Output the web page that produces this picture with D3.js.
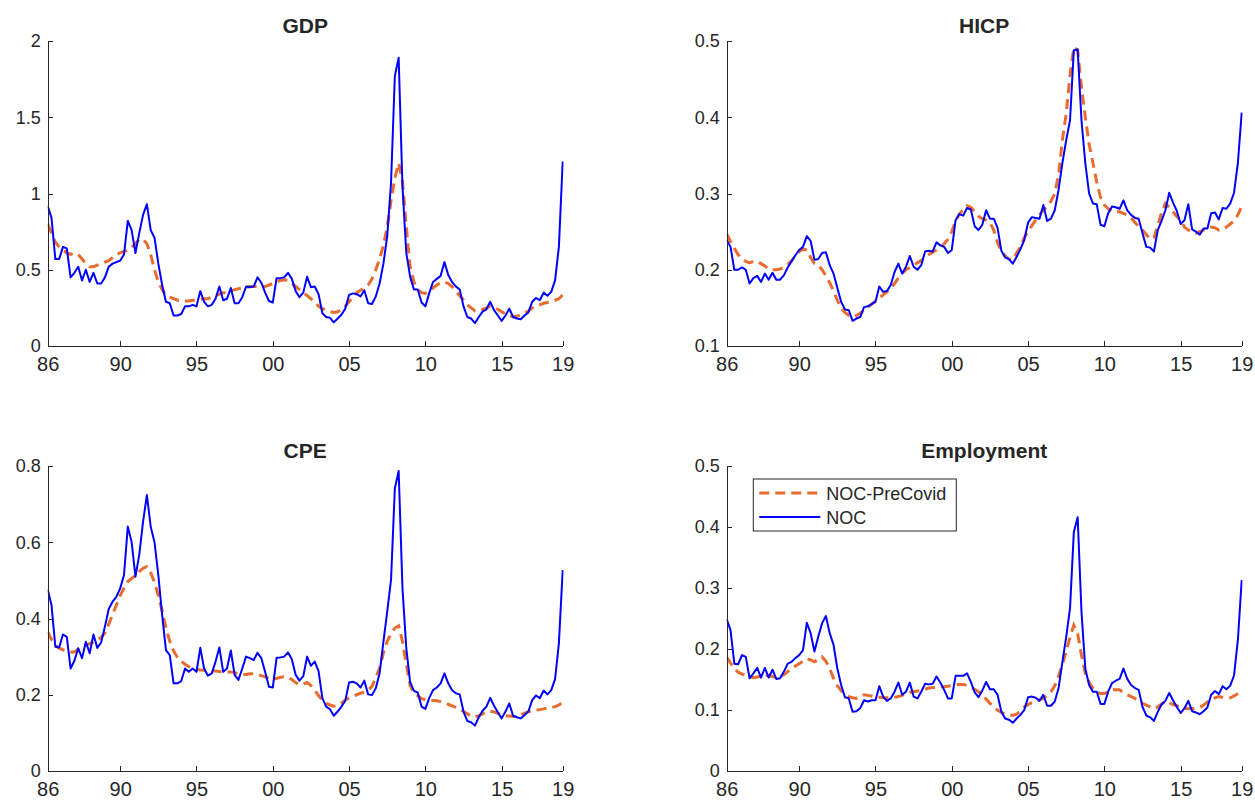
<!DOCTYPE html>
<html>
<head>
<meta charset="utf-8">
<script src="https://cdn.jsdelivr.net/npm/d3@7"></script>
<style>
  body { margin: 0; background: #ffffff; }
  svg { display: block; }
  text { font-family: "Liberation Sans", Arial, Helvetica, sans-serif; fill: #262626; }
</style>
</head>
<body>
<svg id="fig" width="1255" height="802"></svg>
<script>
// ---------------- data ----------------
// Quarterly observations, 1985Q2 .. 2019Q1
const startYear = 1985, startQuarter = 2, nObs = 136;
const periods = d3.range(nObs).map(k => {
  const q = startQuarter - 1 + k;
  return `${startYear + Math.floor(q / 4)}Q${(q % 4) + 1}`;
});
const tickPeriods = ["1985Q2", "1990Q1", "1995Q1", "2000Q1", "2005Q1", "2010Q1", "2015Q1", "2019Q1"];
const tickLabels  = ["86", "90", "95", "00", "05", "10", "15", "19"];

const seriesNames = ["NOC-PreCovid", "NOC"];
const panelTitles = ["GDP", "HICP", "CPE", "Employment"];

const gdpYTicks  = [0, 0.5, 1, 1.5, 2];
const hicpYTicks = [0.1, 0.2, 0.3, 0.4, 0.5];
const cpeYTicks  = [0, 0.2, 0.4, 0.6, 0.8];
const empYTicks  = [0, 0.1, 0.2, 0.3, 0.4, 0.5];

const gdpPreCovid = [
  0.80, 0.74, 0.68, 0.65, 0.63, 0.61, 0.60, 0.61, 0.60, 0.57,
  0.54, 0.52, 0.52, 0.53, 0.54, 0.55, 0.56, 0.58, 0.60, 0.61,
  0.62, 0.63, 0.65, 0.67, 0.70, 0.70, 0.67, 0.60, 0.50, 0.42,
  0.37, 0.33, 0.32, 0.31, 0.30, 0.30, 0.295, 0.295, 0.30, 0.30,
  0.305, 0.31, 0.31, 0.32, 0.33, 0.34, 0.35, 0.35, 0.36, 0.37,
  0.375, 0.38, 0.385, 0.39, 0.39, 0.39, 0.39, 0.39, 0.40, 0.41,
  0.42, 0.43, 0.435, 0.43, 0.41, 0.39, 0.37, 0.35, 0.33, 0.31,
  0.29, 0.26, 0.245, 0.235, 0.225, 0.22, 0.225, 0.235, 0.26, 0.29,
  0.32, 0.35, 0.365, 0.38, 0.40, 0.44, 0.50, 0.57, 0.66, 0.78,
  0.95, 1.10, 1.20, 1.08, 0.78, 0.52, 0.42, 0.37, 0.35, 0.345,
  0.36, 0.38, 0.40, 0.415, 0.42, 0.41, 0.39, 0.36, 0.33, 0.30,
  0.27, 0.25, 0.23, 0.23, 0.24, 0.25, 0.26, 0.25, 0.24, 0.225,
  0.21, 0.20, 0.19, 0.195, 0.205, 0.215, 0.23, 0.25, 0.26, 0.27,
  0.28, 0.285, 0.29, 0.30, 0.31, 0.335
];
const gdpNOC = [
  0.92, 0.84, 0.57, 0.57, 0.65, 0.64, 0.45, 0.48, 0.52, 0.43,
  0.50, 0.42, 0.48, 0.41, 0.41, 0.45, 0.52, 0.54, 0.55, 0.56,
  0.60, 0.82, 0.76, 0.61, 0.74, 0.86, 0.93, 0.76, 0.71, 0.54,
  0.40, 0.29, 0.28, 0.20, 0.20, 0.21, 0.26, 0.26, 0.27, 0.26,
  0.36, 0.29, 0.26, 0.27, 0.31, 0.39, 0.30, 0.31, 0.38, 0.28,
  0.28, 0.32, 0.39, 0.385, 0.39, 0.45, 0.415, 0.35, 0.295, 0.285,
  0.445, 0.445, 0.45, 0.48, 0.44, 0.36, 0.32, 0.35, 0.455, 0.385,
  0.39, 0.34, 0.215, 0.19, 0.185, 0.155, 0.18, 0.205, 0.245, 0.335,
  0.345, 0.34, 0.325, 0.365, 0.28, 0.275, 0.325, 0.41, 0.54, 0.72,
  1.07, 1.77, 1.89, 1.045, 0.61, 0.455, 0.37, 0.37, 0.285, 0.26,
  0.345, 0.42, 0.44, 0.46, 0.55, 0.465, 0.42, 0.39, 0.37, 0.26,
  0.19, 0.18, 0.15, 0.19, 0.225, 0.24, 0.29, 0.235, 0.20, 0.165,
  0.20, 0.245, 0.19, 0.18, 0.175, 0.20, 0.22, 0.29, 0.315, 0.30,
  0.35, 0.33, 0.355, 0.43, 0.65, 1.21
];

const hicpPreCovid = [
  0.247, 0.237, 0.228, 0.220, 0.214, 0.211, 0.209, 0.211, 0.211, 0.208,
  0.205, 0.201, 0.200, 0.200, 0.201, 0.203, 0.207, 0.212, 0.218, 0.224,
  0.227, 0.226, 0.216, 0.208, 0.206, 0.200, 0.192, 0.183, 0.172, 0.160,
  0.150, 0.144, 0.140, 0.138, 0.140, 0.143, 0.147, 0.151, 0.155, 0.159,
  0.163, 0.167, 0.171, 0.176, 0.182, 0.189, 0.195, 0.200, 0.203, 0.206,
  0.209, 0.212, 0.216, 0.220, 0.223, 0.226, 0.229, 0.234, 0.240, 0.250,
  0.264, 0.273, 0.279, 0.284, 0.282, 0.276, 0.270, 0.267, 0.265, 0.262,
  0.252, 0.235, 0.225, 0.218, 0.214, 0.213, 0.222, 0.230, 0.242, 0.250,
  0.258, 0.265, 0.272, 0.278, 0.283, 0.290, 0.300, 0.325, 0.370, 0.405,
  0.455, 0.492, 0.488, 0.440, 0.400, 0.365, 0.340, 0.315, 0.295, 0.285,
  0.280, 0.276, 0.276, 0.276, 0.274, 0.272, 0.268, 0.262, 0.257, 0.252,
  0.246, 0.240, 0.242, 0.258, 0.275, 0.287, 0.282, 0.276, 0.270, 0.265,
  0.256, 0.252, 0.249, 0.248, 0.250, 0.252, 0.254, 0.256, 0.255, 0.252,
  0.253, 0.256, 0.260, 0.264, 0.272, 0.283
];
const hicpNOC = [
  0.239, 0.230, 0.200, 0.200, 0.203, 0.200, 0.182, 0.189, 0.192, 0.184,
  0.195, 0.187, 0.196, 0.187, 0.187, 0.193, 0.203, 0.211, 0.219, 0.226,
  0.230, 0.244, 0.238, 0.213, 0.214, 0.222, 0.223, 0.206, 0.195, 0.176,
  0.158, 0.148, 0.147, 0.133, 0.136, 0.138, 0.151, 0.152, 0.155, 0.158,
  0.178, 0.171, 0.172, 0.180, 0.197, 0.208, 0.195, 0.204, 0.218, 0.204,
  0.200, 0.206, 0.224, 0.225, 0.224, 0.236, 0.232, 0.230, 0.222, 0.226,
  0.265, 0.273, 0.271, 0.281, 0.279, 0.257, 0.252, 0.259, 0.278, 0.267,
  0.267, 0.255, 0.225, 0.216, 0.214, 0.208, 0.217, 0.227, 0.239, 0.262,
  0.269, 0.268, 0.267, 0.285, 0.264, 0.267, 0.278, 0.305, 0.340, 0.370,
  0.396, 0.488, 0.489, 0.396, 0.340, 0.300, 0.287, 0.286, 0.259, 0.257,
  0.274, 0.283, 0.282, 0.280, 0.291, 0.278, 0.272, 0.268, 0.267, 0.248,
  0.230, 0.229, 0.224, 0.252, 0.264, 0.278, 0.301, 0.288, 0.277, 0.260,
  0.265, 0.286, 0.253, 0.250, 0.246, 0.254, 0.254, 0.274, 0.275, 0.266,
  0.281, 0.280, 0.287, 0.301, 0.340, 0.406
];

const cpePreCovid = [
  0.365, 0.345, 0.330, 0.322, 0.318, 0.315, 0.312, 0.312, 0.320, 0.327,
  0.330, 0.334, 0.338, 0.344, 0.350, 0.362, 0.385, 0.410, 0.435, 0.460,
  0.480, 0.497, 0.505, 0.512, 0.523, 0.532, 0.536, 0.520, 0.495, 0.460,
  0.420, 0.375, 0.340, 0.315, 0.298, 0.288, 0.280, 0.274, 0.270, 0.267,
  0.265, 0.264, 0.263, 0.262, 0.262, 0.261, 0.260, 0.260, 0.260, 0.258,
  0.255, 0.253, 0.253, 0.255, 0.255, 0.253, 0.250, 0.247, 0.242, 0.240,
  0.243, 0.246, 0.247, 0.245, 0.240, 0.232, 0.226, 0.228, 0.232, 0.224,
  0.212, 0.198, 0.186, 0.178, 0.173, 0.170, 0.172, 0.178, 0.186, 0.192,
  0.196, 0.200, 0.204, 0.207, 0.212, 0.222, 0.245, 0.270, 0.310, 0.340,
  0.360, 0.375, 0.381, 0.340, 0.280, 0.225, 0.205, 0.197, 0.190, 0.187,
  0.186, 0.185, 0.184, 0.182, 0.178, 0.175, 0.171, 0.167, 0.163, 0.156,
  0.150, 0.143, 0.142, 0.145, 0.150, 0.154, 0.157, 0.155, 0.151, 0.148,
  0.145, 0.144, 0.143, 0.143, 0.147, 0.152, 0.155, 0.158, 0.160, 0.161,
  0.163, 0.165, 0.166, 0.169, 0.173, 0.180
];
const cpeNOC = [
  0.477, 0.435, 0.326, 0.324, 0.358, 0.352, 0.269, 0.289, 0.322, 0.296,
  0.339, 0.309, 0.358, 0.323, 0.337, 0.379, 0.425, 0.444, 0.457, 0.479,
  0.514, 0.641, 0.601, 0.510, 0.567, 0.654, 0.724, 0.641, 0.600, 0.514,
  0.409, 0.317, 0.304, 0.230, 0.230, 0.236, 0.269, 0.260, 0.269, 0.260,
  0.323, 0.269, 0.250, 0.256, 0.287, 0.324, 0.260, 0.269, 0.316, 0.252,
  0.239, 0.269, 0.300, 0.296, 0.291, 0.310, 0.296, 0.260, 0.221, 0.219,
  0.297, 0.298, 0.300, 0.311, 0.293, 0.252, 0.237, 0.249, 0.300, 0.276,
  0.287, 0.262, 0.191, 0.169, 0.162, 0.145, 0.156, 0.169, 0.184, 0.232,
  0.234, 0.230, 0.219, 0.237, 0.201, 0.199, 0.217, 0.256, 0.339, 0.418,
  0.501, 0.741, 0.787, 0.479, 0.322, 0.234, 0.210, 0.206, 0.169, 0.163,
  0.191, 0.212, 0.219, 0.230, 0.256, 0.230, 0.212, 0.204, 0.201, 0.156,
  0.131, 0.128, 0.119, 0.141, 0.158, 0.169, 0.192, 0.171, 0.154, 0.138,
  0.156, 0.177, 0.145, 0.141, 0.138, 0.147, 0.156, 0.186, 0.198, 0.191,
  0.211, 0.201, 0.212, 0.241, 0.335, 0.527
];

const empPreCovid = [
  0.187, 0.177, 0.168, 0.162, 0.159, 0.157, 0.155, 0.153, 0.154, 0.156,
  0.157, 0.157, 0.155, 0.153, 0.155, 0.158, 0.163, 0.168, 0.172, 0.176,
  0.180, 0.184, 0.182, 0.179, 0.183, 0.187, 0.180, 0.168, 0.152, 0.140,
  0.132, 0.126, 0.122, 0.120, 0.119, 0.122, 0.125, 0.124, 0.123, 0.122,
  0.121, 0.120, 0.120, 0.120, 0.121, 0.122, 0.124, 0.127, 0.129, 0.130,
  0.131, 0.132, 0.134, 0.136, 0.137, 0.137, 0.138, 0.138, 0.139, 0.140,
  0.141, 0.142, 0.142, 0.140, 0.137, 0.134, 0.130, 0.125, 0.118, 0.111,
  0.106, 0.100, 0.096, 0.093, 0.092, 0.091, 0.093, 0.098, 0.105, 0.109,
  0.112, 0.115, 0.117, 0.119, 0.124, 0.130, 0.140, 0.155, 0.175, 0.196,
  0.220, 0.239, 0.225, 0.190, 0.160, 0.145, 0.136, 0.130, 0.127, 0.127,
  0.130, 0.133, 0.133, 0.133, 0.128, 0.125, 0.122, 0.119, 0.115, 0.111,
  0.108, 0.105, 0.102, 0.105, 0.110, 0.114, 0.112, 0.109, 0.107, 0.105,
  0.103, 0.102, 0.102, 0.103, 0.104, 0.108, 0.113, 0.117, 0.120, 0.122,
  0.121, 0.120, 0.120, 0.123, 0.127, 0.131
];
const empNOC = [
  0.249, 0.231, 0.176, 0.175, 0.190, 0.187, 0.152, 0.160, 0.169, 0.153,
  0.169, 0.153, 0.166, 0.151, 0.152, 0.163, 0.176, 0.179, 0.185, 0.190,
  0.198, 0.243, 0.226, 0.196, 0.220, 0.242, 0.254, 0.226, 0.207, 0.168,
  0.141, 0.121, 0.119, 0.097, 0.098, 0.103, 0.116, 0.114, 0.116, 0.116,
  0.139, 0.122, 0.115, 0.119, 0.130, 0.145, 0.125, 0.130, 0.145, 0.122,
  0.119, 0.130, 0.143, 0.142, 0.143, 0.155, 0.145, 0.133, 0.119, 0.119,
  0.156, 0.156, 0.156, 0.160, 0.146, 0.129, 0.121, 0.132, 0.146, 0.134,
  0.134, 0.125, 0.097, 0.086, 0.084, 0.079, 0.086, 0.092, 0.100, 0.121,
  0.122, 0.120, 0.115, 0.125, 0.107, 0.107, 0.114, 0.136, 0.179, 0.220,
  0.267, 0.392, 0.416, 0.261, 0.168, 0.141, 0.130, 0.130, 0.110, 0.110,
  0.130, 0.144, 0.148, 0.151, 0.168, 0.151, 0.141, 0.136, 0.133, 0.105,
  0.091, 0.088, 0.082, 0.097, 0.109, 0.115, 0.128, 0.116, 0.105, 0.095,
  0.103, 0.115, 0.098, 0.096, 0.093, 0.098, 0.104, 0.125, 0.131, 0.126,
  0.139, 0.134, 0.140, 0.157, 0.215, 0.313
];

// ---------------- layout & style ----------------
const AXIS_COLOR = "#262626";
const PRE_COLOR = "#EA6B2E";
const NOC_COLOR = "#0000FF";
const plotW = 515, plotH = 305;
const colLeft = [47.7, 726.7];
const rowTop = [41, 466];

const panels = [
  { title: panelTitles[0], yTicks: gdpYTicks,  pre: gdpPreCovid,  noc: gdpNOC,  col: 0, row: 0 },
  { title: panelTitles[1], yTicks: hicpYTicks, pre: hicpPreCovid, noc: hicpNOC, col: 1, row: 0 },
  { title: panelTitles[2], yTicks: cpeYTicks,  pre: cpePreCovid,  noc: cpeNOC,  col: 0, row: 1 },
  { title: panelTitles[3], yTicks: empYTicks,  pre: empPreCovid,  noc: empNOC,  col: 1, row: 1, legend: true }
];

const svg = d3.select("#fig");
svg.append("rect").attr("width", 1255).attr("height", 802).attr("fill", "#ffffff");

const tickIdx = tickPeriods.map(p => periods.indexOf(p));

panels.forEach((p, pi) => {
  const g = svg.append("g")
    .attr("transform", `translate(${colLeft[p.col]},${rowTop[p.row]})`);

  const x = d3.scaleLinear().domain([0, nObs - 1]).range([0, plotW]);
  const y = d3.scaleLinear().domain(d3.extent(p.yTicks)).range([plotH, 0]);

  const clipId = `clip${pi}`;
  g.append("clipPath").attr("id", clipId)
    .append("rect").attr("x", 0).attr("y", -2).attr("width", plotW + 1).attr("height", plotH + 2);

  const line = d3.line().x((d, i) => x(i)).y(d => y(d));

  const plot = g.append("g").attr("clip-path", `url(#${clipId})`);
  plot.append("path").datum(p.pre)
    .attr("d", line).attr("fill", "none")
    .attr("stroke", PRE_COLOR).attr("stroke-width", 3)
    .attr("stroke-dasharray", "10,6");
  plot.append("path").datum(p.noc)
    .attr("d", line).attr("fill", "none")
    .attr("stroke", NOC_COLOR).attr("stroke-width", 2)
    .attr("stroke-linejoin", "round");

  // y axis
  const yAxis = d3.axisLeft(y).tickValues(p.yTicks)
    .tickFormat(d3.format("~g")).tickSizeInner(-5).tickSizeOuter(0).tickPadding(7);
  const ya = g.append("g").call(yAxis);
  ya.select(".domain").attr("stroke", AXIS_COLOR);
  ya.selectAll(".tick line").attr("stroke", AXIS_COLOR);
  ya.selectAll(".tick text").attr("font-size", 18).attr("fill", AXIS_COLOR)
    .attr("font-family", "Liberation Sans, Arial, sans-serif");

  // x axis
  const xAxis = d3.axisBottom(x).tickValues(tickIdx)
    .tickFormat((d, i) => tickLabels[i]).tickSizeInner(-5).tickSizeOuter(0).tickPadding(11);
  const xa = g.append("g").attr("transform", `translate(0,${plotH})`).call(xAxis);
  xa.select(".domain").attr("stroke", AXIS_COLOR);
  xa.selectAll(".tick line").attr("stroke", AXIS_COLOR);
  xa.selectAll(".tick text").attr("font-size", 20).attr("fill", AXIS_COLOR)
    .attr("font-family", "Liberation Sans, Arial, sans-serif");
  g.selectAll(".domain, .tick line").attr("shape-rendering", "crispEdges");

  // title
  g.append("text")
    .attr("x", plotW / 2).attr("y", -8)
    .attr("text-anchor", "middle")
    .attr("font-size", 21).attr("font-weight", "bold").attr("fill", "#000")
    .text(p.title);

  if (p.legend) {
    const lg = g.append("g").attr("transform", "translate(26.6,13)");
    lg.append("rect").attr("width", 203).attr("height", 52)
      .attr("fill", "#fff").attr("stroke", AXIS_COLOR).attr("stroke-width", 1);
    const entries = [
      { name: seriesNames[0], color: PRE_COLOR, w: 3, dash: "10,6" },
      { name: seriesNames[1], color: NOC_COLOR, w: 2, dash: null }
    ];
    entries.forEach((e, k) => {
      const cy = 14 + k * 24;
      lg.append("line").attr("x1", 6).attr("x2", 67).attr("y1", cy).attr("y2", cy)
        .attr("stroke", e.color).attr("stroke-width", e.w)
        .attr("stroke-dasharray", e.dash);
      lg.append("text").attr("x", 73).attr("y", cy + 7)
        .attr("font-size", 18).attr("fill", "#000").text(e.name);
    });
  }
});
</script>
</body>
</html>
